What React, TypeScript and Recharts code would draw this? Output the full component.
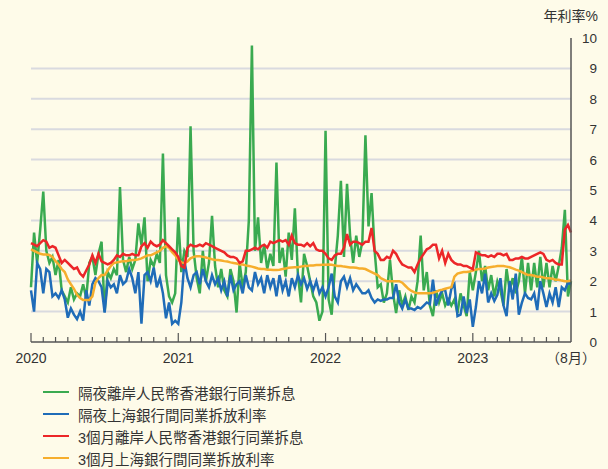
import { LineChart, Line, XAxis, YAxis, CartesianGrid } from "recharts";

// one value every quarter month, Jan 2020 .. end Aug 2023
const STEP = 0.25;

// 隔夜離岸人民幣香港銀行同業拆息
const onCnh = [
  1.8, 3.6, 2.6, 3.7,
  4.95, 3.0, 2.6, 2.8,
  2.2, 2.7, 1.7, 1.5,
  1.3, 1.8, 1.4, 1.6,
  1.5, 1.9, 1.45, 2.6,
  2.8, 2.2, 2.9, 3.3,
  1.0, 2.3, 2.1, 2.4,
  2.2, 5.1, 2.7, 2.3,
  2.8, 2.4, 2.7, 3.9,
  3.2, 4.1, 2.0, 2.7,
  2.5, 2.9, 2.6, 6.2,
  2.2, 1.5, 1.3, 1.6,
  // 2021
  4.1, 2.3, 3.0, 2.8,
  7.1, 3.0, 2.1, 1.6,
  3.0, 2.0, 2.6, 4.15,
  2.5, 1.8, 2.4, 1.7,
  1.5, 2.4, 2.0, 0.97,
  2.6, 1.8, 2.3, 4.0,
  9.75, 3.0, 4.1, 2.6,
  3.2, 2.4, 2.9, 2.5,
  5.9, 2.6, 3.1, 2.15,
  3.6, 2.7, 4.4, 2.2,
  1.3, 2.9, 2.5, 2.0,
  1.5, 1.3, 0.7, 1.0,
  // 2022
  6.95, 1.4, 0.9, 2.4,
  3.5, 5.3, 2.8, 5.2,
  3.5, 2.6, 3.5, 2.8,
  3.3, 6.8, 3.8, 4.9,
  3.0, 1.8, 1.9, 1.3,
  1.6, 2.7, 1.6, 0.95,
  1.7, 1.2, 1.5, 1.05,
  1.5, 1.3, 2.0, 3.5,
  1.7, 2.3, 1.2, 0.85,
  1.7, 1.3, 1.6, 1.2,
  1.4, 1.2, 1.4, 0.95,
  1.6, 1.2, 0.85, 2.3,
  // 2023
  1.7, 2.3, 3.0, 2.0,
  2.5, 1.7, 2.2, 1.5,
  2.0, 1.7, 1.2, 2.4,
  1.7, 2.1, 1.6, 2.0,
  2.8, 1.6, 2.6, 1.7,
  2.6, 1.8, 2.8, 1.8,
  2.6, 1.8, 2.5, 2.0,
  2.5, 3.1, 4.35, 1.5,
  2.0,
];

// 隔夜上海銀行間同業拆放利率
const onShibor = [
  1.7, 1.0, 2.6, 2.4,
  1.6, 2.4, 2.3, 1.5,
  1.6, 1.45, 1.7, 1.4,
  0.8, 1.1, 0.9, 0.75,
  1.0, 0.7, 1.7, 1.2,
  1.9, 2.1, 2.0, 1.8,
  0.97, 2.0, 1.8, 1.9,
  1.6, 2.2, 1.9, 2.0,
  2.4, 2.1, 1.6, 2.3,
  0.6, 2.2, 2.3, 2.0,
  2.45, 1.8, 2.1, 1.6,
  0.78, 1.3, 0.6, 0.7,
  // 2021
  0.6, 1.3, 2.67, 2.1,
  1.8, 2.2, 2.3, 1.9,
  2.4, 2.0, 1.8, 2.2,
  1.9, 2.1, 1.7, 2.0,
  1.5, 2.2, 1.7, 1.9,
  2.0, 1.6, 2.2, 1.8,
  1.7, 2.3, 1.9, 2.1,
  1.6, 2.2, 1.8, 2.1,
  1.5, 2.2, 1.7, 2.0,
  1.5, 2.1, 1.8, 2.2,
  1.9, 2.1, 1.75, 2.0,
  1.7, 2.0, 1.6, 1.8,
  // 2022
  1.5, 1.8, 2.25, 1.5,
  1.3, 2.0, 2.15, 1.8,
  2.1, 1.7, 1.9, 1.75,
  1.6, 1.6, 1.7, 1.45,
  1.3, 1.4, 1.35, 1.4,
  1.4, 1.45, 1.45, 1.9,
  1.3, 1.1, 1.4, 1.1,
  1.1, 1.05, 1.15, 1.1,
  1.2, 1.3, 1.25, 2.05,
  1.2, 1.5, 1.7, 1.7,
  1.2, 1.75, 1.9, 0.85,
  0.9, 1.5, 0.95, 1.4,
  // 2023
  0.5, 1.15, 2.0, 1.6,
  2.25, 1.3, 1.6, 1.35,
  1.55, 2.1, 1.2, 0.85,
  2.0, 1.4, 2.25, 0.9,
  1.3, 1.6, 1.45, 1.4,
  1.6, 1.05, 2.0, 1.6,
  1.15, 1.6, 1.3, 1.8,
  1.15, 1.8, 1.7, 1.95,
  1.9,
];

// 3個月離岸人民幣香港銀行同業拆息
const m3Cnh = [
  3.25, 3.2, 3.15, 3.25,
  3.35, 3.3, 3.1, 3.15,
  3.1, 2.85, 2.6, 2.7,
  2.6, 2.5, 2.4, 2.45,
  2.25, 2.15, 2.35, 2.55,
  2.85, 2.6, 2.9, 2.65,
  2.6, 2.55, 2.6, 2.7,
  2.85, 2.8, 2.9, 2.85,
  2.85, 2.9, 2.85, 2.85,
  3.15, 3.25, 3.1, 3.3,
  3.2, 3.15, 3.2, 3.35,
  3.25, 3.15, 3.05, 2.95,
  // 2021
  2.8, 2.5, 2.45, 3.1,
  3.2, 3.15, 3.15, 3.2,
  3.15, 3.25, 3.2, 3.15,
  3.1, 3.05, 3.0, 2.95,
  2.85, 2.8, 2.8, 2.75,
  2.6, 2.65, 3.0, 3.0,
  3.05, 3.1, 3.05, 3.15,
  3.2, 3.1, 3.3, 3.25,
  3.3, 3.35, 3.3, 3.35,
  3.2, 3.5, 3.25, 3.2,
  3.2, 3.15, 3.25, 3.15,
  3.25, 3.05, 3.0, 3.0,
  // 2022
  2.9, 2.75, 2.7, 2.85,
  2.9, 2.9, 3.1, 3.55,
  3.2, 3.3, 3.3, 3.25,
  3.2, 3.3, 3.3, 3.75,
  3.0, 2.9, 2.7, 2.7,
  2.8, 2.75, 3.0, 2.9,
  2.7, 2.55, 2.5, 2.45,
  2.45, 2.3, 2.55, 2.75,
  2.9, 3.05, 3.1, 3.2,
  3.2, 2.75, 3.0, 2.6,
  2.9, 2.7, 2.6, 2.55,
  2.55, 2.5, 2.5, 2.45,
  // 2023
  2.4, 2.95, 2.9, 2.85,
  2.85, 2.8, 2.85, 2.8,
  2.9, 2.9, 2.85, 2.9,
  2.7, 2.7, 2.75, 2.75,
  2.8, 2.75, 2.75, 2.8,
  2.85, 2.9, 2.95, 2.9,
  2.7, 2.65, 2.7, 2.6,
  2.55, 2.55, 3.7, 3.85,
  3.6,
];

// 3個月上海銀行間同業拆放利率
const m3Shibor = [
  3.05, 3.0, 2.95, 2.9,
  2.88, 2.88, 2.86, 2.8,
  2.66, 2.55, 2.4, 2.3,
  2.06, 1.9, 1.75, 1.55,
  1.45, 1.38, 1.38, 1.38,
  1.5, 1.95, 2.1, 2.2,
  2.2, 2.35, 2.5, 2.6,
  2.62, 2.64, 2.66, 2.66,
  2.68, 2.7, 2.7, 2.72,
  2.75, 2.8, 2.85, 2.85,
  2.9, 2.95, 3.0, 3.1,
  3.15, 3.1, 2.95, 2.85,
  // 2021
  2.7, 2.62, 2.6, 2.65,
  2.75, 2.8, 2.82, 2.82,
  2.8, 2.78, 2.75, 2.72,
  2.7, 2.7, 2.68, 2.66,
  2.65, 2.62, 2.6, 2.58,
  2.55, 2.55, 2.52, 2.5,
  2.48, 2.45, 2.42, 2.4,
  2.4, 2.38, 2.38, 2.37,
  2.37, 2.38, 2.4, 2.42,
  2.44, 2.45, 2.46, 2.46,
  2.48, 2.5, 2.5, 2.52,
  2.52, 2.53, 2.53, 2.54,
  // 2022
  2.54, 2.55, 2.54, 2.52,
  2.5, 2.5, 2.48, 2.47,
  2.45, 2.45, 2.44, 2.42,
  2.42, 2.4, 2.35, 2.3,
  2.25, 2.2, 2.1, 2.05,
  2.0, 2.0, 2.0, 2.0,
  2.0, 1.95, 1.85, 1.75,
  1.68, 1.63, 1.6, 1.6,
  1.6, 1.6, 1.6, 1.62,
  1.65, 1.7, 1.72, 1.75,
  1.78, 1.8, 2.15, 2.25,
  2.28, 2.3, 2.3, 2.32,
  // 2023
  2.35, 2.38, 2.4, 2.4,
  2.42, 2.45, 2.47, 2.48,
  2.5, 2.5, 2.5, 2.48,
  2.46, 2.42, 2.38, 2.35,
  2.3, 2.25, 2.2, 2.2,
  2.18, 2.15, 2.15, 2.12,
  2.1, 2.1, 2.08, 2.05,
  2.05, 2.02, 2.0, 2.0,
  2.02,
];

const yearTicks = [0, 12, 24, 36, 44];
const yearLabels = ["2020", "2021", "2022", "2023", "（8月）"];
const monthTicks = Array.from({ length: 45 }, (_, i) => i);
const rateTicks = [0, 1, 2, 3, 4, 5, 6, 7, 8, 9, 10];
const gridValues = [1, 2, 3, 4, 5, 6, 7, 8, 9];

const series = [
  { key: "onCnh", name: "隔夜離岸人民幣香港銀行同業拆息", color: "#3aaa50" },
  { key: "onShibor", name: "隔夜上海銀行間同業拆放利率", color: "#1f6cb8" },
  { key: "m3Shibor", name: "3個月上海銀行間同業拆放利率", color: "#f6ae2d" },
  { key: "m3Cnh", name: "3個月離岸人民幣香港銀行同業拆息", color: "#ec2628" },
];
const legendOrder = ["onCnh", "onShibor", "m3Cnh", "m3Shibor"];

const data = onCnh.map((_, i) => ({
  m: i * STEP,
  onCnh: onCnh[i],
  onShibor: onShibor[i],
  m3Cnh: m3Cnh[i],
  m3Shibor: m3Shibor[i],
}));

const W = 608;
const H = 469;
const FONT = "'Liberation Sans', 'Noto Sans CJK TC', sans-serif";
const TEXT = "#333";
const AXIS = "#555";
const BG = "#fefbe9";
const MARGIN = { top: 38, right: 0, left: 31, bottom: 97 };
const XAXIS_H = 30;
const PLOT_BOTTOM = H - MARGIN.bottom - XAXIS_H;

function MonthTick(props: any) {
  const { x, payload } = props;
  const v = payload.value;
  const idx = yearTicks.indexOf(v);
  const isYear = idx >= 0 && v !== 44;
  const len = isYear ? 9 : 5;
  return (
    <g>
      {v !== 44 && (
        <line x1={x} x2={x} y1={PLOT_BOTTOM} y2={PLOT_BOTTOM - len} stroke={AXIS} strokeWidth={1.2} />
      )}
      {idx >= 0 && (
        <text x={x} y={PLOT_BOTTOM + 21} textAnchor="middle" fontSize={14} fill={TEXT} fontFamily={FONT}>
          {yearLabels[idx]}
        </text>
      )}
    </g>
  );
}

function RateTick(props: any) {
  const { y, payload } = props;
  return (
    <text x={597} y={y} dy={5} textAnchor="end" fontSize={13.5} fill={TEXT} fontFamily={FONT}>
      {payload.value}
    </text>
  );
}

export default function App() {
  return (
    <div style={{ position: "relative", width: W, height: H, background: BG, fontFamily: FONT }}>
      <style>{"body{margin:0}"}</style>
      <LineChart width={W} height={H} data={data} margin={MARGIN}>
        <CartesianGrid vertical={false} horizontalValues={gridValues} stroke="#d9dadf" strokeWidth={2} />
        <XAxis
          type="number"
          dataKey="m"
          domain={[0, 44]}
          ticks={monthTicks}
          interval={0}
          height={XAXIS_H}
          tickLine={false}
          axisLine={{ stroke: AXIS, strokeWidth: 1.5 }}
          tick={MonthTick}
        />
        <YAxis
          orientation="right"
          domain={[0, 10]}
          ticks={rateTicks}
          interval={0}
          width={37}
          tickLine={false}
          axisLine={{ stroke: AXIS, strokeWidth: 1.5 }}
          tick={RateTick}
        />
        {series.map((s) => (
          <Line
            key={s.key}
            type="linear"
            dataKey={s.key}
            stroke={s.color}
            strokeWidth={2.5}
            dot={false}
            isAnimationActive={false}
          />
        ))}
      </LineChart>
      <div style={{ position: "absolute", right: 10, top: 6, fontSize: 14, color: TEXT, lineHeight: "20px" }}>
        年利率%
      </div>
      <div style={{ position: "absolute", left: 43, top: 381 }}>
        {legendOrder.map((k) => {
          const s = series.find((x) => x.key === k)!;
          return (
            <div key={k} style={{ display: "flex", alignItems: "center", height: 22 }}>
              <div style={{ width: 26, height: 2.5, background: s.color, marginRight: 9 }} />
              <span style={{ fontSize: 14.5, color: TEXT, whiteSpace: "nowrap" }}>{s.name}</span>
            </div>
          );
        })}
      </div>
    </div>
  );
}
